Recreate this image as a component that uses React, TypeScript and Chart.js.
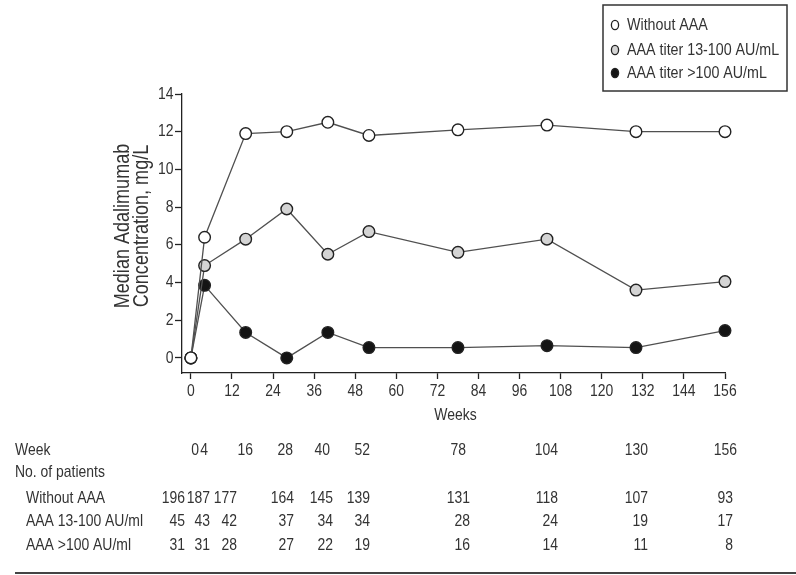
import React, { useEffect, useRef } from "react";
import { Chart, registerables } from "chart.js";

Chart.register(...registerables);

// ---- data ----
const WEEKS = [0, 4, 16, 28, 40, 52, 78, 104, 130, 156];
const WITHOUT_AAA = [0, 6.4, 11.9, 12.0, 12.5, 11.8, 12.1, 12.35, 12.0, 12.0];
const AAA_13_100 = [0, 4.9, 6.3, 7.9, 5.5, 6.7, 5.6, 6.3, 3.6, 4.05];
const AAA_GT_100 = [0, 3.85, 1.35, 0, 1.35, 0.55, 0.55, 0.65, 0.55, 1.45];
const SERIES_LABELS = ["Without AAA", "AAA titer 13-100 AU/mL", "AAA titer >100 AU/mL"];
const X_TICKS = [0, 12, 24, 36, 48, 60, 72, 84, 96, 108, 120, 132, 144, 156];
const Y_TICKS = [0, 2, 4, 6, 8, 10, 12, 14];
const Y_TITLE = ["Median Adalimumab", "Concentration, mg/L"];
const X_TITLE = "Weeks";

const TABLE_WEEK_LABELS = ["0", "4", "16", "28", "40", "52", "78", "104", "130", "156"];
const TABLE_HEAD = "Week";
const TABLE_SUBHEAD = "No. of patients";
const TABLE_ROW_LABELS = ["Without AAA", "AAA 13-100 AU/ml", "AAA >100 AU/ml"];
const N_WITHOUT_AAA = [196, 187, 177, 164, 145, 139, 131, 118, 107, 93];
const N_AAA_13_100 = [45, 43, 42, 37, 34, 34, 28, 24, 19, 17];
const N_AAA_GT_100 = [31, 31, 28, 27, 22, 19, 16, 14, 11, 8];

// ---- layout / style ----
const FONT = "'Liberation Sans', Arial, sans-serif";
const SQUEEZE = 0.82; // condensed look
const TEXT = "#333333";
const WEEK_COL_RIGHT = [199, 208, 253, 293, 330, 370, 466, 558, 648, 737];
const COUNT_COL_RIGHT = [185, 210, 237, 294, 333, 370, 470, 558, 648, 733];
const ROW_Y = [450, 472, 498, 521.5, 545];
const LEGEND_Y = [25, 50, 73];

function txt(
  ctx: CanvasRenderingContext2D,
  s: string,
  x: number,
  y: number,
  size: number,
  align: CanvasTextAlign,
  rot = 0
) {
  ctx.save();
  ctx.translate(x, y);
  if (rot) ctx.rotate(rot);
  ctx.scale(SQUEEZE, 1);
  ctx.font = `${size}px ${FONT}`;
  ctx.textAlign = align;
  ctx.textBaseline = "middle";
  ctx.fillStyle = TEXT;
  ctx.fillText(s, 0, 0);
  ctx.restore();
}

const overlayPlugin = {
  id: "overlay",
  afterDraw(chart: any) {
    const ctx: CanvasRenderingContext2D = chart.ctx;
    const xs = chart.scales.x;
    const ys = chart.scales.y;
    ctx.save();

    // tick labels
    X_TICKS.forEach((v) => txt(ctx, String(v), xs.getPixelForValue(v), 391, 17, "center"));
    Y_TICKS.forEach((v) => txt(ctx, String(v), 173.5, ys.getPixelForValue(v), 17, "right"));

    // axis titles
    txt(ctx, X_TITLE, 455.5, 415, 17, "center");
    Y_TITLE.forEach((t, i) => txt(ctx, t, 123 + i * 19, 226, 22, "center", -Math.PI / 2));

    // Legend
    ctx.strokeStyle = "#333";
    ctx.lineWidth = 1.5;
    ctx.strokeRect(603, 5, 184, 86);
    chart.data.datasets.forEach((ds: any, i: number) => {
      ctx.beginPath();
      ctx.ellipse(615, LEGEND_Y[i], 3.6, 4.6, 0, 0, Math.PI * 2);
      ctx.fillStyle = ds.pointBackgroundColor;
      ctx.fill();
      ctx.lineWidth = 1.3;
      ctx.strokeStyle = "#222";
      ctx.stroke();
      txt(ctx, SERIES_LABELS[i], 627, LEGEND_Y[i], 17.4, "left");
    });

    // Table
    txt(ctx, TABLE_HEAD, 15, ROW_Y[0], 17, "left");
    txt(ctx, TABLE_SUBHEAD, 15, ROW_Y[1], 17, "left");
    TABLE_ROW_LABELS.forEach((l, i) => txt(ctx, l, 26, ROW_Y[2 + i], 17, "left"));
    TABLE_WEEK_LABELS.forEach((w, i) => txt(ctx, w, WEEK_COL_RIGHT[i], ROW_Y[0], 17, "right"));
    [N_WITHOUT_AAA, N_AAA_13_100, N_AAA_GT_100].forEach((row, r) => {
      row.forEach((n, i) => txt(ctx, String(n), COUNT_COL_RIGHT[i], ROW_Y[2 + r], 17, "right"));
    });

    // bottom rule
    ctx.strokeStyle = "#444";
    ctx.lineWidth = 2;
    ctx.beginPath();
    ctx.moveTo(15, 573);
    ctx.lineTo(796, 573);
    ctx.stroke();
    ctx.restore();
  },
};

export default function App() {
  const ref = useRef<HTMLCanvasElement>(null);

  useEffect(() => {
    if (!ref.current) return;
    const mk = (label: string, data: number[], fill: string) => ({
      label,
      data: WEEKS.map((w, i) => ({ x: w, y: data[i] })),
      borderColor: "#505050",
      borderWidth: 1.3,
      pointRadius: 5.8,
      pointBorderWidth: 1.4,
      pointBorderColor: "#222",
      pointBackgroundColor: fill,
      backgroundColor: fill,
      tension: 0,
      clip: false,
    });
    const hidden = "rgba(0,0,0,0)";
    const chart = new Chart(ref.current, {
      type: "line",
      data: {
        datasets: [
          mk(SERIES_LABELS[0], WITHOUT_AAA, "#ffffff"),
          mk(SERIES_LABELS[1], AAA_13_100, "#d4d4d4"),
          mk(SERIES_LABELS[2], AAA_GT_100, "#141414"),
        ],
      },
      options: {
        animation: false,
        responsive: false,
        events: [],
        layout: { padding: { left: 100, right: 71, top: 94, bottom: 150 } },
        plugins: { legend: { display: false }, tooltip: { enabled: false } },
        scales: {
          x: {
            type: "linear",
            min: -2.6,
            max: 156,
            afterBuildTicks: (s: any) => {
              s.ticks = X_TICKS.map((v) => ({ value: v }));
            },
            afterFit: (s: any) => {
              s.height = 52;
            },
            grid: { display: true, drawOnChartArea: false, drawTicks: true, tickLength: 6, tickColor: "#222", tickWidth: 1.3 },
            border: { display: true, color: "#222", width: 1.3 },
            ticks: { color: hidden, font: { family: FONT, size: 13 }, padding: 3, maxRotation: 0, autoSkip: false },
          },
          y: {
            type: "linear",
            min: -0.8,
            max: 14,
            afterBuildTicks: (s: any) => {
              s.ticks = Y_TICKS.map((v) => ({ value: v }));
            },
            afterFit: (s: any) => {
              s.width = 82;
            },
            grid: { display: true, drawOnChartArea: false, drawTicks: true, tickLength: 7, tickColor: "#222", tickWidth: 1.3 },
            border: { display: true, color: "#222", width: 1.3 },
            ticks: { color: hidden, font: { family: FONT, size: 13 }, padding: 2 },
          },
        },
      },
      plugins: [overlayPlugin],
    } as any);
    return () => chart.destroy();
  }, []);

  return (
    <div style={{ position: "fixed", left: 0, top: 0, width: 796, height: 575, background: "#fff" }}>
      <canvas ref={ref} width={796} height={575} style={{ display: "block" }} />
    </div>
  );
}
